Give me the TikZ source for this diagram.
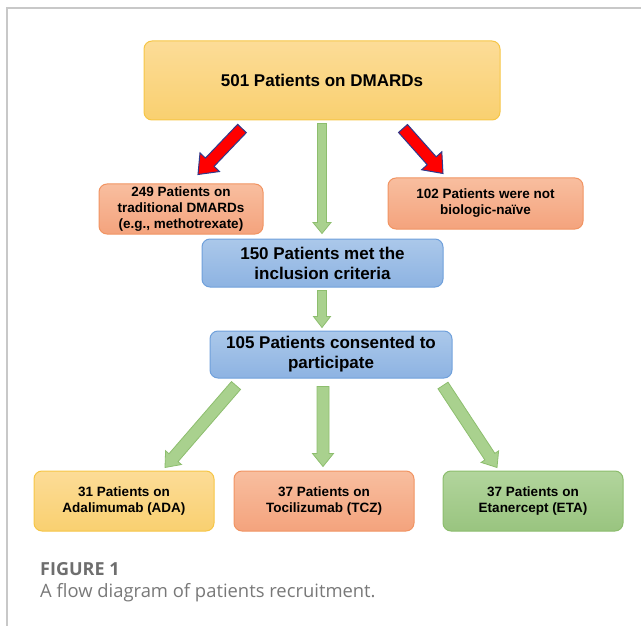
\documentclass[tikz,border=0pt]{standalone}
\usepackage{fontspec}
\setmainfont{Liberation Sans}
\newfontfamily\capfont{Open Sans}
\usetikzlibrary{calc}

% block arrow: [style]{start}{tip}{shaft half width}{head half width}{head length}
\newcommand{\blockarrow}[6][]{%
  \coordinate (ba-s) at (#2);
  \coordinate (ba-e) at (#3);
  \coordinate (ba-h) at ($(ba-e)!#6!(ba-s)$);
  \draw[#1] ($(ba-s)!#4!90:(ba-e)$) -- ($(ba-h)!#4!90:(ba-e)$)
    -- ($(ba-h)!#5!90:(ba-e)$) -- (ba-e) -- ($(ba-h)!#5!-90:(ba-e)$)
    -- ($(ba-h)!#4!-90:(ba-e)$) -- ($(ba-s)!#4!-90:(ba-e)$) -- cycle;}

\begin{document}
\begin{tikzpicture}[
    x=1pt, y=-1pt,
    box/.style={draw, line width=1pt, rounded corners=8pt, align=center, inner sep=0pt},
    bigtext/.style={font=\bfseries\fontsize{17}{20}\selectfont},
    smalltext/.style={font=\bfseries\fontsize{13.5}{16}\selectfont},
    yellowbox/.style={box, draw=yellowline, top color=yellowtop, bottom color=yellowbot},
    salmonbox/.style={box, draw=salmonline, top color=salmontop, bottom color=salmonbot},
    bluebox/.style={box, draw=blueline, top color=bluetop, bottom color=bluebot},
    greenbox/.style={box, draw=greenline, top color=greentop, bottom color=greenbot},
    redarrow/.style={fill=arrowred, draw=arrowblue, line width=1pt},
    greenarrow/.style={fill=arrowgreen, draw=arrowgreenline, line width=0.8pt}
]

% Colors
\definecolor{yellowtop}{HTML}{FCDC97}
\definecolor{yellowbot}{HTML}{F9D070}
\definecolor{yellowline}{HTML}{F6C646}
\definecolor{salmontop}{HTML}{F8BE9F}
\definecolor{salmonbot}{HTML}{F4A37D}
\definecolor{salmonline}{HTML}{F19462}
\definecolor{bluetop}{HTML}{ABC8EA}
\definecolor{bluebot}{HTML}{8DB3E2}
\definecolor{blueline}{HTML}{6FA0DB}
\definecolor{greentop}{HTML}{B2D59D}
\definecolor{greenbot}{HTML}{99C47F}
\definecolor{greenline}{HTML}{8CBD6D}
\definecolor{arrowred}{HTML}{FF0000}
\definecolor{arrowblue}{HTML}{2E3A8C}
\definecolor{arrowgreen}{HTML}{A9D18E}
\definecolor{arrowgreenline}{HTML}{8DBE6E}
\definecolor{framegray}{HTML}{C8C8C8}
\definecolor{capgray}{HTML}{6E6E6E}
\definecolor{capgraylight}{HTML}{787878}

\useasboundingbox (0,0) rectangle (641,626);

% Frame
\draw[framegray, line width=1.5pt] (7,626) -- (7,8) -- (641,8);

% Screening
\node[yellowbox, bigtext, minimum width=356pt, minimum height=79pt] (dmards) at (322,80.5)
{501 Patients on DMARDs};

\node[salmonbox, smalltext, minimum width=164pt, minimum height=50pt] (tradit) at (181,209)
{249 Patients on\\
traditional DMARDs\\
(e.g., methotrexate)};

\node[salmonbox, smalltext, minimum width=195pt, minimum height=51pt] (notnaive) at (485.5,203.5)
{102 Patients were not\\
biologic-naïve};

\node[bluebox, bigtext, minimum width=241pt, minimum height=48pt] (inclusion) at (322.5,263)
{150 Patients met the\\
inclusion criteria};

\node[bluebox, bigtext, minimum width=242pt, minimum height=47pt] (consent) at (331,354.5)
{105 Patients consented to\\
participate};

% Treatment groups
\node[yellowbox, smalltext, minimum width=180pt, minimum height=60pt] (ada) at (124,501)
{31 Patients on\\
Adalimumab (ADA)};

\node[salmonbox, smalltext, minimum width=180pt, minimum height=60pt] (tcz) at (324,501)
{37 Patients on\\
Tocilizumab (TCZ)};

\node[greenbox, smalltext, minimum width=180pt, minimum height=60pt] (eta) at (533,501)
{37 Patients on\\
Etanercept (ETA)};

% Arrows
\blockarrow[redarrow]{[xshift=-80pt,yshift=-8pt]dmards.south}{[xshift=17pt,yshift=9pt]tradit.north}{6pt}{13.5pt}{17pt}
\blockarrow[redarrow]{[xshift=81pt,yshift=-8pt]dmards.south}{[xshift=-42.5pt,yshift=4pt]notnaive.north}{6pt}{13.5pt}{17pt}
\blockarrow[greenarrow]{[yshift=-3pt]dmards.south}{[xshift=-0.5pt,yshift=5pt]inclusion.north}{4.5pt}{9pt}{11pt}
\blockarrow[greenarrow]{[xshift=-0.5pt,yshift=-3pt]inclusion.south}{[xshift=-9pt,yshift=3pt]consent.north}{4.5pt}{8.5pt}{11pt}

\blockarrow[greenarrow]{[xshift=-95pt,yshift=-7pt]consent.south}{[xshift=41pt,yshift=3pt]ada.north}{6pt}{10.5pt}{13pt}
\blockarrow[greenarrow]{[xshift=-8pt,yshift=-8pt]consent.south}{[xshift=-1pt,yshift=4pt]tcz.north}{6pt}{10.5pt}{13pt}
\blockarrow[greenarrow]{[xshift=112pt,yshift=-7pt]consent.south}{[xshift=-36pt,yshift=3pt]eta.north}{6pt}{10.5pt}{13pt}

% Caption
\node[anchor=base west, inner sep=0pt, text=capgray, font=\capfont\bfseries\fontsize{18}{20}\selectfont] (figno) at (40,575)
{FIGURE 1};
\node[anchor=base west, inner sep=0pt, text=capgraylight, font=\capfont\fontsize{18.4}{21}\selectfont] (figcap) at (40,597)
{A flow diagram of patients recruitment.};

\end{tikzpicture}
\end{document}
